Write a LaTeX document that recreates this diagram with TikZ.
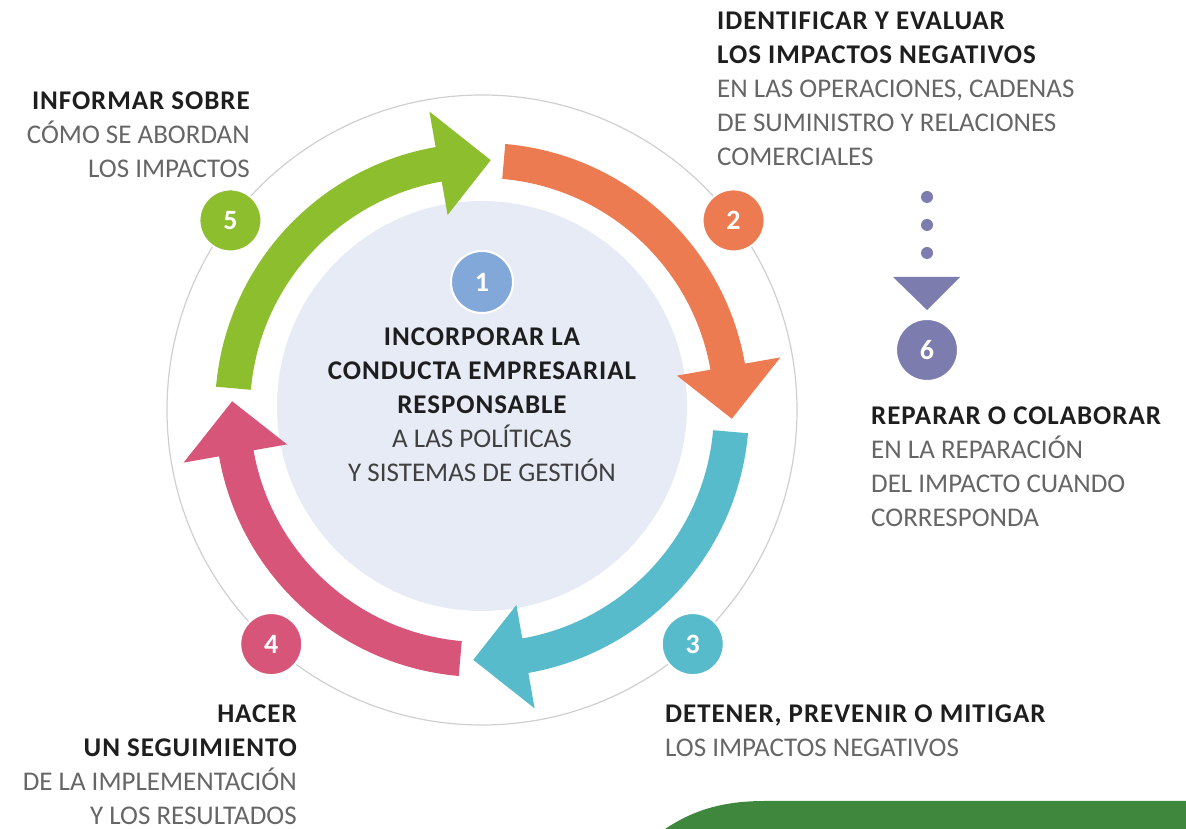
\documentclass[tikz,border=0pt]{standalone}
\usepackage{fontspec}
\setmainfont{Carlito}[BoldFeatures={LetterSpace=3.5}]
\usetikzlibrary{arrows}
\definecolor{stepgreen}{HTML}{8CBE2D}
\definecolor{steporange}{HTML}{EC7B52}
\definecolor{stepteal}{HTML}{58BBCB}
\definecolor{steppink}{HTML}{D8557A}
\definecolor{stepblue}{HTML}{82A8DA}
\definecolor{steppurple}{HTML}{7D7CAE}
\definecolor{corefill}{HTML}{E7EBF5}
\definecolor{ringgray}{HTML}{CFCFCF}
\definecolor{txtgray}{HTML}{666666}
\definecolor{txtdark}{HTML}{1E1E1E}
\definecolor{footgreen}{HTML}{3E873D}
\newcommand{\lblfont}{\fontsize{27}{34}\selectfont}
\newcommand{\hd}[1]{{\bfseries\color{txtdark}#1}}
% one curved arrow of the cycle: start angle, colour
\newcommand{\cyclearrow}[2]{%
  \fill[#2] (#1:267) arc[start angle=#1, end angle=#1-75, radius=267]
    -- (#1-75:303) -- (#1-87:250) -- (#1-75:198) -- (#1-75:232)
    arc[start angle=#1-75, end angle=#1, radius=232] -- cycle;}

\begin{document}
\begin{tikzpicture}[x=1pt,y=1pt,
    num/.style={circle, minimum size=62, inner sep=0, draw=white, line width=2,
      text=white, font=\fontsize{28}{28}\selectfont\bfseries},
    lbl/.style={inner sep=0, text=txtgray, font=\lblfont}]
    \useasboundingbox (0,0) rectangle (1186,829);
    \fill[footgreen] (665,0) .. controls (695,20) and (725,28) .. (765,28) -- (1186,28) -- (1186,0) -- cycle;

    \node[circle, fill=corefill, minimum size=410, inner sep=0] (core) at (482,423) {};

    \begin{scope}[shift={(482,419)}]
        \draw[ringgray, line width=1.2] (0,0) circle[radius=315];
        \cyclearrow{175}{stepgreen}
        \cyclearrow{85}{steporange}
        \cyclearrow{-5}{stepteal}
        \cyclearrow{-95}{steppink}
        \node[num, fill=stepgreen] (n5) at (143:315) {5};
        \node[num, fill=steporange] (n2) at (37:315) {2};
        \node[num, fill=stepteal] (n3) at (-48:315) {3};
        \node[num, fill=steppink] (n4) at (228:315) {4};
    \end{scope}

    \node[num, fill=stepblue] (n1) at (482,547) {1};
    \node[lbl, anchor=north, align=center, text=txtdark!85] (t1) at (482,501.5)
        {\hd{INCORPORAR LA}\\ \hd{CONDUCTA EMPRESARIAL}\\ \hd{RESPONSABLE}\\ A LAS POLÍTICAS\\ Y SISTEMAS DE GESTIÓN};

    % step 6 hangs below step 2
    \node[num, fill=steppurple] (n6) at (927,479) {6};
    \foreach \d in {97,125,153}
        \fill[steppurple] ([yshift=\d]n6.center) circle[radius=6];
    \fill[steppurple] ([shift={(-34,73)}]n6.center) -- ([shift={(33,73)}]n6.center)
        -- ([yshift=40]n6.center) -- cycle;

    \node[lbl, anchor=north west, align=left] (t2) at (717,817.5)
        {\hd{IDENTIFICAR Y EVALUAR}\\ \hd{LOS IMPACTOS NEGATIVOS}\\ EN LAS OPERACIONES, CADENAS\\ DE SUMINISTRO Y RELACIONES\\ COMERCIALES};
    \node[lbl, anchor=north west, align=left] (t6) at (871,422.5)
        {\hd{REPARAR O COLABORAR}\\ EN LA REPARACIÓN\\ DEL IMPACTO CUANDO\\ CORRESPONDA};
    \node[lbl, anchor=north west, align=left] (t3) at (665,124.5)
        {\hd{DETENER, PREVENIR O MITIGAR}\\ LOS IMPACTOS NEGATIVOS};
    \node[lbl, anchor=north east, align=right] (t4) at (297,124.5)
        {\hd{HACER}\\ \hd{UN SEGUIMIENTO}\\ DE LA IMPLEMENTACIÓN\\ Y LOS RESULTADOS};
    \node[lbl, anchor=north east, align=right] (t5) at (250,737.5)
        {\hd{INFORMAR SOBRE}\\ CÓMO SE ABORDAN\\ LOS IMPACTOS};
\end{tikzpicture}
\end{document}
